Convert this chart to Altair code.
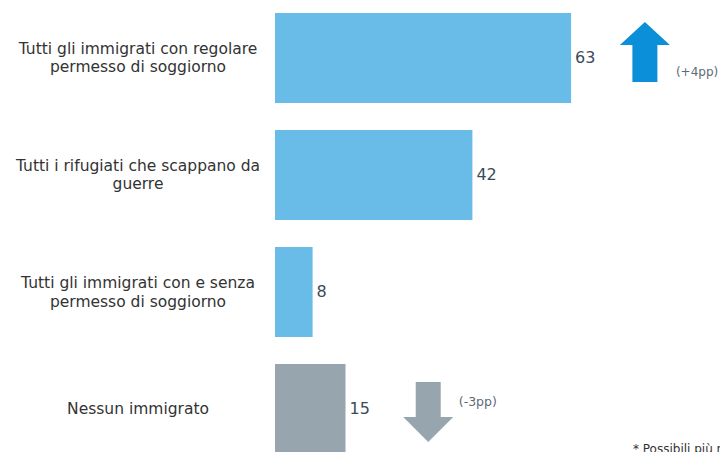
import altair as alt
import pandas as pd

# ---- data ----
ids = ["c0", "c1", "c2", "c3"]
categories = [
    "Tutti gli immigrati con regolare\npermesso di soggiorno",
    "Tutti i rifugiati che scappano da\nguerre",
    "Tutti gli immigrati con e senza\npermesso di soggiorno",
    "Nessun immigrato",
]
values = [63, 42, 8, 15]
groups = ["pro", "pro", "pro", "none"]
changes = ["(+4pp)", "", "", "(-3pp)"]
footnote = "* Possibili più risposte"

df = pd.DataFrame({"id": ids, "label": categories, "value": values,
                   "group": groups, "change": changes})

BLUE = "#6ABCE8"
GRAY = "#97A5AF"
ARROW_BLUE = "#0B8FD8"
FONT = "DejaVu Sans"

# arrow shapes (unit box, scaled by sqrt(size)/2)
UP = "M0,-1.44 L1,-0.52 L0.5,-0.52 L0.5,0.96 L-0.5,0.96 L-0.5,-0.52 L-1,-0.52 Z"
DOWN = "M-0.5,-1.08 L0.5,-1.08 L0.5,0.32 L1,0.32 L0,1.32 L-1,0.32 L-0.5,0.32 Z"

PX_PER_UNIT = 4.70
WIDTH = 445

base = alt.Chart(df)
y = alt.Y("id:N", sort=None, axis=None,
          scale=alt.Scale(paddingInner=0.2308, paddingOuter=0.0427))
xs = alt.Scale(domain=[0, WIDTH / PX_PER_UNIT], nice=False, zero=True)

bars = base.mark_bar().encode(
    x=alt.X("value:Q", scale=xs, axis=None),
    y=y,
    color=alt.Color("group:N", scale=alt.Scale(domain=["pro", "none"], range=[BLUE, GRAY]), legend=None),
)

vals = base.mark_text(align="left", baseline="middle", dx=4, fontSize=16,
                      font=FONT, color="#3B4B5A").encode(
    x="value:Q", y=y, text="value:Q")

cats2 = base.transform_filter("indexof(datum.label, '\\n') >= 0").mark_text(
    align="center", baseline="middle", lineBreak="\n", dy=-9,
    fontSize=15.5, lineHeight=18.5, font=FONT, color="#333333").encode(
    x=alt.value(-137), y=y, text="label:N")

cats1 = base.transform_filter("indexof(datum.label, '\\n') < 0").mark_text(
    align="center", baseline="middle",
    fontSize=15.5, font=FONT, color="#333333").encode(
    x=alt.value(-137), y=y, text="label:N")

up = base.transform_filter("datum.id == 'c0'").mark_point(
    shape=UP, size=2500, filled=True, color=ARROW_BLUE, opacity=1, strokeWidth=0).encode(
    x=alt.datum(78.7), y=y)

down = base.transform_filter("datum.id == 'c3'").mark_point(
    shape=DOWN, size=2500, filled=True, color=GRAY, opacity=1, strokeWidth=0).encode(
    x=alt.datum(32.6), y=y)

up_lbl = base.transform_filter("datum.id == 'c0'").mark_text(
    align="left", baseline="middle", dy=14, fontSize=12, font=FONT, color="#5B6B78").encode(
    x=alt.datum(85.3), y=y, text="change:N")

down_lbl = base.transform_filter("datum.id == 'c3'").mark_text(
    align="left", baseline="middle", dy=-7, fontSize=12.5, font=FONT, color="#5B6B78").encode(
    x=alt.datum(39.1), y=y, text="change:N")

foot = alt.Chart(pd.DataFrame({"t": [footnote]})).mark_text(
    align="left", baseline="middle", fontSize=12, font=FONT, color="#333333").encode(
    x=alt.value(358), y=alt.value(441), text="t:N")

chart = alt.layer(bars, vals, cats2, cats1, up, down, up_lbl, down_lbl, foot).properties(
    width=WIDTH, height=451,
    padding={"left": 267, "top": 0, "right": 0, "bottom": 0},
    autosize=alt.AutoSizeParams(type="none"),
).configure_view(stroke=None)

chart.save("out.html", embed_options={"renderer": "svg", "actions": False})
